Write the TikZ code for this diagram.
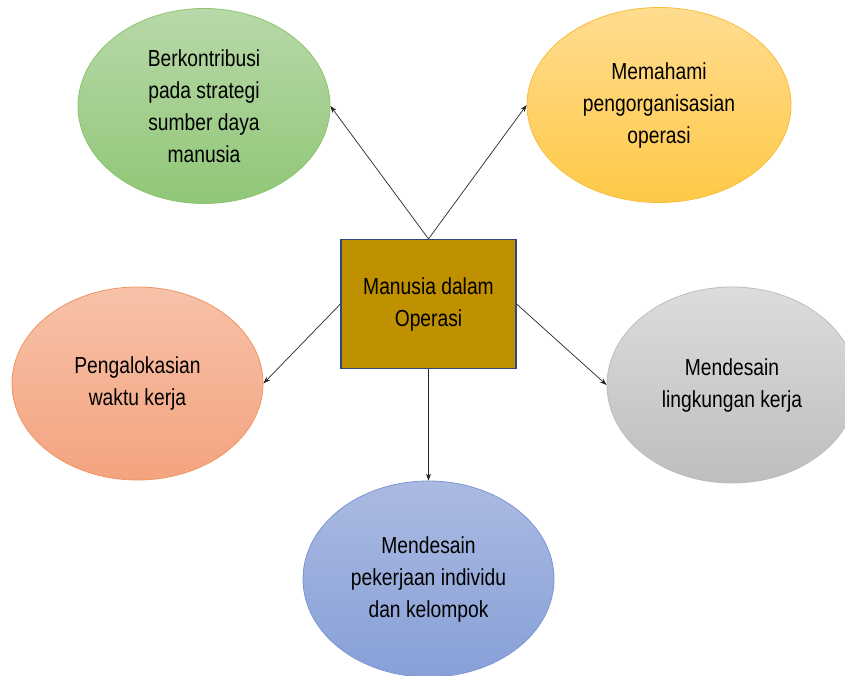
\documentclass[tikz,border=0pt]{standalone}
\usepackage{fontspec}
\setmainfont[FakeStretch=0.83]{Liberation Sans}
\usetikzlibrary{shapes.geometric,arrows.meta}
\definecolor{gTop}{HTML}{B8D8A9}\definecolor{gBot}{HTML}{90C777}\definecolor{gLine}{HTML}{8CC46F}
\definecolor{yTop}{HTML}{FFDC90}\definecolor{yBot}{HTML}{FFC947}\definecolor{yLine}{HTML}{F7BE3C}
\definecolor{oTop}{HTML}{F7C2A9}\definecolor{oBot}{HTML}{F4A37F}\definecolor{oLine}{HTML}{EF9560}
\definecolor{sTop}{HTML}{DCDCDC}\definecolor{sBot}{HTML}{BEBEBE}\definecolor{sLine}{HTML}{BDBDBD}
\definecolor{bTop}{HTML}{ABBAE1}\definecolor{bBot}{HTML}{87A0D8}\definecolor{bLine}{HTML}{7D96D1}
\definecolor{hubFill}{HTML}{BF9000}\definecolor{hubLine}{HTML}{2F4A7A}
\begin{document}
\begin{tikzpicture}[x=1pt,y=-1pt,
  label text/.style={align=center,font=\fontsize{23.2}{32}\selectfont},
  bubble/.style={ellipse,inner sep=0pt,line width=0.8pt,label text,
    minimum width=252pt,minimum height=195pt},
  hub/.style={rectangle,inner sep=0pt,minimum width=175pt,minimum height=129pt,
    fill=hubFill,draw=hubLine,line width=1.2pt,label text},
  link/.style={draw=black!85,line width=0.7pt,-{Stealth[length=7pt,width=5pt]}}]
\useasboundingbox (0,0) rectangle (845,675);
\clip (0,0) rectangle (845,675);

\node[hub] (hub) at (428.5,304) {Manusia dalam\\Operasi};

\node[bubble,top color=gTop,bottom color=gBot,draw=gLine] (hr) at (204,106)
  {Berkontribusi\\pada strategi\\sumber daya\\manusia};
\node[bubble,minimum width=264pt,top color=yTop,bottom color=yBot,draw=yLine] (org) at (659,105)
  {Memahami\\pengorganisasian\\operasi};
\node[bubble,minimum width=251pt,minimum height=193pt,top color=oTop,bottom color=oBot,draw=oLine] (time) at (137.5,383.5)
  {Pengalokasian\\waktu kerja};
\node[bubble,minimum width=250pt,minimum height=196pt,top color=sTop,bottom color=sBot,draw=sLine] (env) at (732,385)
  {Mendesain\\lingkungan kerja};
\node[bubble,minimum width=251pt,minimum height=196pt,top color=bTop,bottom color=bBot,draw=bLine] (job) at (428.5,579)
  {Mendesain\\pekerjaan individu\\dan kelompok};

\draw[link] (hub.north) -- (hr.east);
\draw[link] (hub.north) -- (org.west);
\draw[link] (hub.west) -- (time.east);
\draw[link] (hub.east) -- (env.west);
\draw[link] (hub.south) -- (job.north);
\end{tikzpicture}
\end{document}
